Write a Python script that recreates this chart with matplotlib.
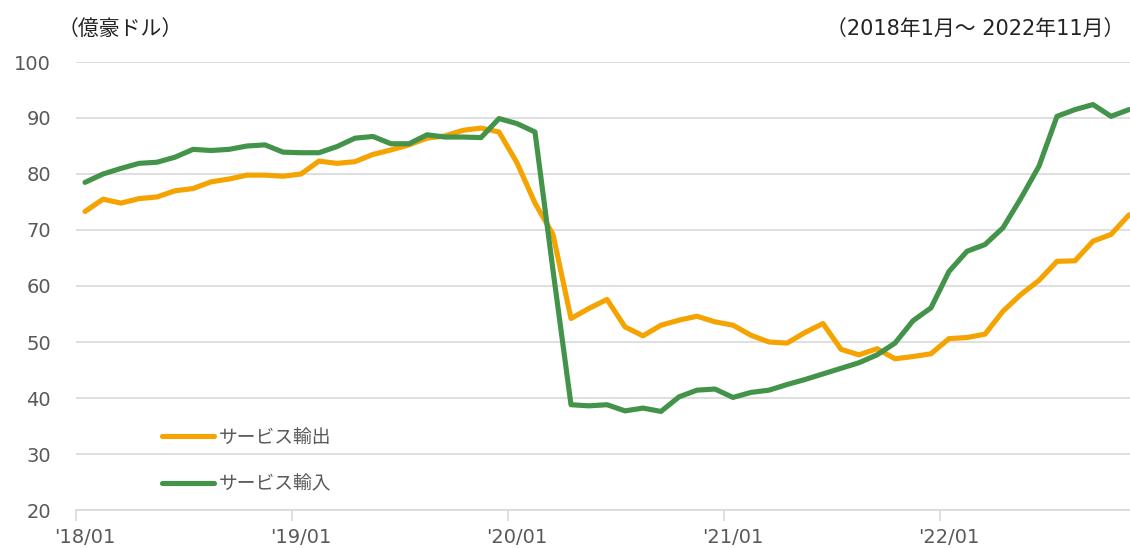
import matplotlib
matplotlib.use("Agg")
import matplotlib.pyplot as plt
import numpy as np

# ---- data (monthly, 2018/01 - 2022/11) ----
exports = [73.3, 75.5, 74.8, 75.6, 75.9, 77.0, 77.4, 78.6, 79.1, 79.8, 79.8, 79.6,
           80.0, 82.3, 81.9, 82.2, 83.5, 84.3, 85.2, 86.4, 86.8, 87.8, 88.2, 87.5,
           82.0, 74.8, 69.2, 54.2, 56.0, 57.6, 52.7, 51.1, 53.0, 53.9, 54.6, 53.6,
           53.0, 51.2, 50.0, 49.8, 51.7, 53.3, 48.7, 47.7, 48.8, 47.0, 47.4, 47.9,
           50.6, 50.8, 51.4, 55.5, 58.5, 61.0, 64.4, 64.5, 68.0, 69.2, 72.7]
imports = [78.5, 80.0, 81.0, 81.9, 82.1, 83.0, 84.4, 84.2, 84.4, 85.0, 85.2, 83.9,
           83.8, 83.8, 84.9, 86.4, 86.7, 85.4, 85.4, 87.0, 86.6, 86.6, 86.5, 89.9,
           89.0, 87.5, 62.8, 38.8, 38.6, 38.8, 37.7, 38.2, 37.6, 40.2, 41.4, 41.6,
           40.1, 41.0, 41.4, 42.4, 43.3, 44.3, 45.3, 46.3, 47.7, 49.8, 53.8, 56.1,
           62.6, 66.2, 67.4, 70.4, 75.7, 81.4, 90.3, 91.5, 92.4, 90.3, 91.5]
series_labels = ["サービス輸出", "サービス輸入"]
xtick_labels = ["'18/01", "'19/01", "'20/01", "'21/01", "'22/01"]
yticks = [20, 30, 40, 50, 60, 70, 80, 90, 100]
unit_label = "（億豪ドル）"
period_label = "（2018年1月～ 2022年11月）"

ORANGE = "#F5A300"
GREEN = "#43934A"
GRID = "#D9D9D9"
TXT = "#595959"

plt.rcParams['font.family'] = ['DejaVu Sans', 'Noto Sans CJK JP']

W, H = 1130, 549
fig = plt.figure(figsize=(W / 100, H / 100), dpi=100)
ax = fig.add_axes([76 / W, 39 / H, (W - 76) / W, 448 / H])

x = np.arange(len(exports))
ax.plot(x, exports, color=ORANGE, lw=3.7, solid_joinstyle='round',
        solid_capstyle='round', label=series_labels[0], clip_on=False, zorder=3)
ax.plot(x, imports, color=GREEN, lw=3.7, solid_joinstyle='round',
        solid_capstyle='round', label=series_labels[1], clip_on=False, zorder=4)

ax.set_xlim(-0.5, (W - 76) / 18 - 0.5)
ax.set_ylim(20, 100)

ax.set_yticks(yticks)
ax.set_yticklabels([str(v) for v in yticks])
ax.tick_params(axis='y', length=0, pad=18, labelsize=14, labelcolor=TXT)
ax.yaxis.grid(True, color=GRID, lw=1.2)
ax.set_axisbelow(True)

major_pos = [i * 12 - 0.5 for i in range(len(xtick_labels))]
minor_pos = [i * 12 for i in range(len(xtick_labels))]
ax.set_xticks(major_pos)
ax.set_xticklabels([])
ax.set_xticks(minor_pos, minor=True)
ax.set_xticklabels(xtick_labels, minor=True)
ax.tick_params(axis='x', which='major', length=8, width=1.2, color=GRID)
ax.tick_params(axis='x', which='minor', length=0, pad=13, labelsize=14, labelcolor=TXT)

for s in ['top', 'right', 'left']:
    ax.spines[s].set_visible(False)
ax.spines['bottom'].set_color(GRID)
ax.spines['bottom'].set_linewidth(1.2)

fig.text(58 / W, 1 - 29 / H, unit_label, ha='left', va='center', fontsize=15, color='#222222')
fig.text(1124 / W, 1 - 29 / H, period_label, ha='right', va='center', fontsize=15, color='#222222')

leg = ax.legend(loc='upper left', bbox_to_anchor=(162 / W, 1 - 428 / H),
                bbox_transform=fig.transFigure, frameon=False, fontsize=13.5,
                handlelength=2.75, handletextpad=0.3, labelspacing=1.45,
                borderpad=0, borderaxespad=0)
for t in leg.get_texts():
    t.set_color(TXT)

fig.savefig("out.png", dpi=100)
